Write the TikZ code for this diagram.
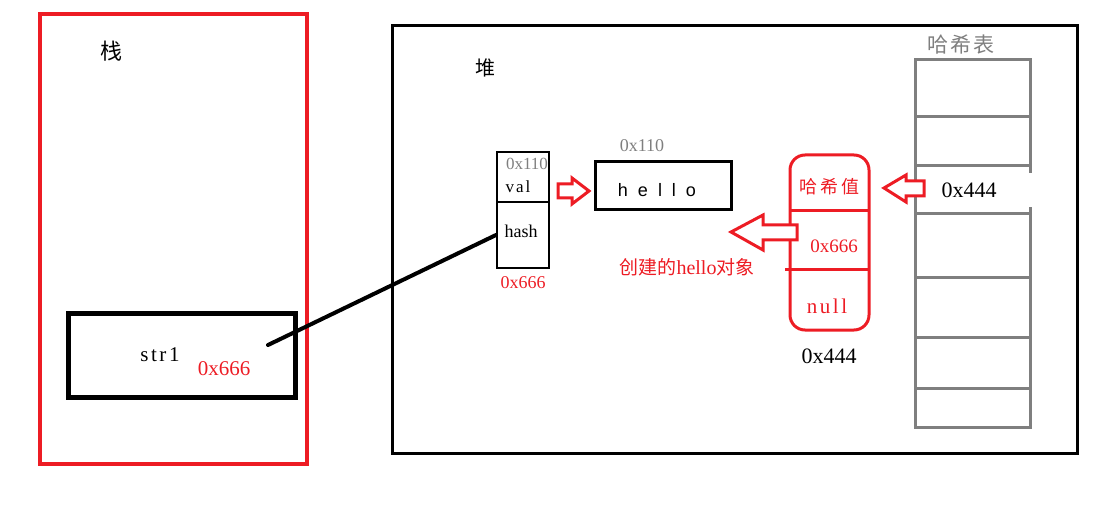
\documentclass[tikz,border=0pt]{standalone}
\usepackage{fontspec}
\setmainfont{Liberation Serif}
\newfontfamily\cjk{Noto Sans CJK SC}
\newfontfamily\arialf{Liberation Sans}
\newfontfamily\spacedf[LetterSpace=12]{Liberation Serif}
\definecolor{myred}{RGB}{237,28,36}
\definecolor{mygray}{RGB}{127,127,127}
\begin{document}
\begin{tikzpicture}[x=1pt,y=-1pt,
  txt/.style={inner sep=0pt,anchor=center},
  cellbox/.style={draw=black,line width=2pt,inner sep=0pt},
  hollowarrow/.style={draw=myred,line width=3pt,fill=white,line join=miter},
  graycell/.style={draw=mygray,line width=3pt}]
\useasboundingbox (0,0) rectangle (1102,526);
% stack
\node[draw=myred,line width=4pt,minimum width=267,minimum height=450,inner sep=0pt] (stack) at (173.5,239) {};
\node[txt,font=\cjk\fontsize{22}{22}\selectfont] (stacklbl) at (111,51) {栈};
% heap
\node[draw=black,line width=3pt,minimum width=685,minimum height=427,inner sep=0pt] (heap) at (734.5,239.5) {};
\node[txt,font=\cjk\fontsize{20}{20}\selectfont] (heaplbl) at (485,68) {堆};
% str1 box
\node[draw=black,line width=5pt,minimum width=227,minimum height=83,inner sep=0pt] (str1box) at (181.5,355.5) {};
\node[txt,font=\spacedf\fontsize{21}{21}\selectfont] (str1) at (160,355) {str1};
\node[txt,font=\fontsize{21}{21}\selectfont,text=myred] (str1addr) at (224,369) {0x666};
% string object
\node[cellbox,minimum width=52,minimum height=50] (valcell) at (523,177) {};
\node[cellbox,minimum width=52,minimum height=66] (hashcell) at (523,235) {};
\node[txt,font=\fontsize{17}{17}\selectfont,text=mygray] (objaddr) at (527,164) {0x110};
\node[txt,font=\spacedf\fontsize{17}{17}\selectfont] (val) at (518,187) {val};
\node[txt,font=\fontsize{18}{18}\selectfont] (hash) at (521,231) {hash};
\node[txt,font=\fontsize{18}{18}\selectfont,text=myred] (objref) at (523,283) {0x666};
% hello array
\node[txt,font=\fontsize{18}{18}\selectfont,text=mygray] (arraddr) at (642,146) {0x110};
\node[cellbox,line width=3pt,minimum width=136,minimum height=48] (hellobox) at (663,186) {};
\node[txt,font=\arialf\fontsize{18}{18}\selectfont] (hello) at (657,190) {h\hspace{10pt}e\hspace{10pt}l\hspace{10pt}l\hspace{10pt}o};
% arrow val -> hello
\draw[hollowarrow] (558,184) -- (572,184) -- (572,178) -- (589,191) -- (572,204) -- (572,198) -- (558,198) -- cycle;
% connector str1 -> hash
\coordinate (str1end) at (268,345);
\draw[line width=4pt,line cap=round] (str1end) -- (hashcell.west);
% hash entry node
\node[draw=myred,line width=3pt,rounded corners=15pt,minimum width=79,minimum height=175,inner sep=0pt] (entry) at (829.5,242.5) {};
\draw[myred,line width=3pt] (791,211) -- (868,211);
\draw[myred,line width=3pt] (785,270) -- (868,270);
\node[txt,font=\cjk\fontsize{18}{18}\selectfont,text=myred] (hv) at (829,187) {哈\hspace{3pt}希\hspace{3pt}值};
\node[txt,font=\fontsize{19}{19}\selectfont,text=myred] (entryval) at (834,246) {0x666};
\node[txt,font=\spacedf\fontsize{21}{21}\selectfont,text=myred] (null) at (827,306) {null};
\node[txt,font=\fontsize{22}{22}\selectfont] (entryaddr) at (829,356) {0x444};
% arrow entry -> hello
\draw[hollowarrow] (797,225) -- (763,225) -- (763,215) -- (731,232) -- (763,250) -- (763,240) -- (797,240) -- cycle;
\node[txt,font=\cjk\fontsize{19}{19}\selectfont,text=myred] (created) at (687,267) {创建的{\rmfamily\fontsize{20}{20}\selectfont hello}对象};
% hash table
\node[txt,font=\cjk\fontsize{21}{21}\selectfont,text=mygray] (tablelbl) at (961,45) {哈\hspace{2pt}希\hspace{2pt}表};
\foreach \ya/\yb [count=\i] in {60/117,117/166,166/214,214/278,278/337,337/388,388/427}{
  \node[graycell,minimum width=115,minimum height={\yb-\ya},inner sep=0pt] (row\i) at (972.5,{(\ya+\yb)/2}) {};
}
\fill[white] (917,173) rectangle (1034,207);
\draw[mygray,line width=3pt] (915,166) -- (915,214);
\node[txt,font=\fontsize{22}{22}\selectfont] (tableval) at (969,190) {0x444};
% arrow table -> entry
\draw[hollowarrow] (924,181) -- (906,181) -- (906,175) -- (884,188) -- (906,202) -- (906,196) -- (924,196) -- cycle;
\end{tikzpicture}
\end{document}
